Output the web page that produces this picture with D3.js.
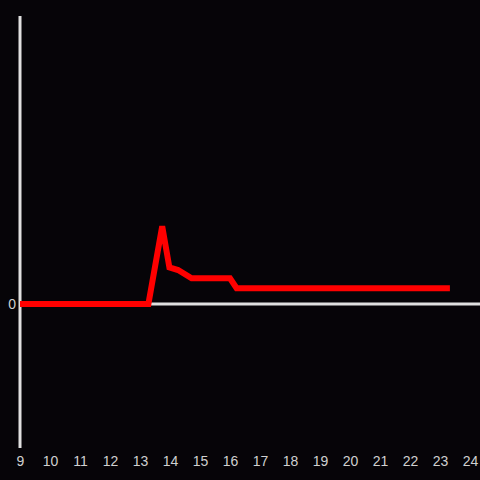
<!DOCTYPE html>
<html>
<head>
<meta charset="utf-8">
<script src="https://cdn.jsdelivr.net/npm/d3@7"></script>
<style>
  body { margin: 0; background: #060408; }
  svg { display: block; }
</style>
</head>
<body>
<div id="chart-area"></div>
<script>
// time of day (hours) and value
var hours = [9, 13.28, 13.74, 13.98, 14.27, 14.72, 16.0, 16.22, 23.33];
var values = [0, 0, 27, 12.7, 11.8, 8.9, 8.9, 5.5, 5.5];
var xTicks = [9, 10, 11, 12, 13, 14, 15, 16, 17, 18, 19, 20, 21, 22, 23, 24];
var yTicks = [0];

var width = 480, height = 480;
var svg = d3.select("#chart-area").append("svg")
    .attr("width", width)
    .attr("height", height);

svg.append("rect")
    .attr("width", width)
    .attr("height", height)
    .attr("fill", "#060408");

var x = d3.scaleLinear().domain([9, 24]).range([20, 470]);
var y = d3.scaleLinear().domain([-50, 100]).range([448, 16]);

// zero line
svg.append("line")
    .attr("x1", x(9)).attr("x2", width)
    .attr("y1", y(0)).attr("y2", y(0))
    .attr("stroke", "#e0e0e0")
    .attr("stroke-width", 3);

// vertical axis line
svg.append("line")
    .attr("x1", x(9)).attr("x2", x(9))
    .attr("y1", y(100)).attr("y2", y(-50))
    .attr("stroke", "#e0e0e0")
    .attr("stroke-width", 3);

// x labels
var xAxis = d3.axisBottom(x).tickValues(xTicks).tickSize(0).tickPadding(8).tickFormat(d3.format("d"));
var gx = svg.append("g")
    .attr("transform", "translate(0," + 448 + ")")
    .call(xAxis);
gx.select(".domain").remove();
gx.selectAll("text")
    .attr("fill", "#d0d0d0")
    .attr("font-family", "Liberation Sans, Arial, sans-serif")
    .attr("font-size", "14px");

// y labels
var yAxis = d3.axisLeft(y).tickValues(yTicks).tickSize(0).tickPadding(4);
var gy = svg.append("g")
    .attr("transform", "translate(" + x(9) + ",0)")
    .call(yAxis);
gy.select(".domain").remove();
gy.selectAll("text")
    .attr("fill", "#d0d0d0")
    .attr("font-family", "Liberation Sans, Arial, sans-serif")
    .attr("font-size", "14px");

var data = hours.map(function (h, i) { return { h: h, v: values[i] }; });
var line = d3.line()
    .x(function (d) { return x(d.h); })
    .y(function (d) { return y(d.v); });

svg.append("path")
    .datum(data)
    .attr("d", line)
    .attr("fill", "none")
    .attr("stroke", "#ff0000")
    .attr("stroke-width", 6)
    .attr("stroke-linejoin", "miter");
</script>
</body>
</html>
